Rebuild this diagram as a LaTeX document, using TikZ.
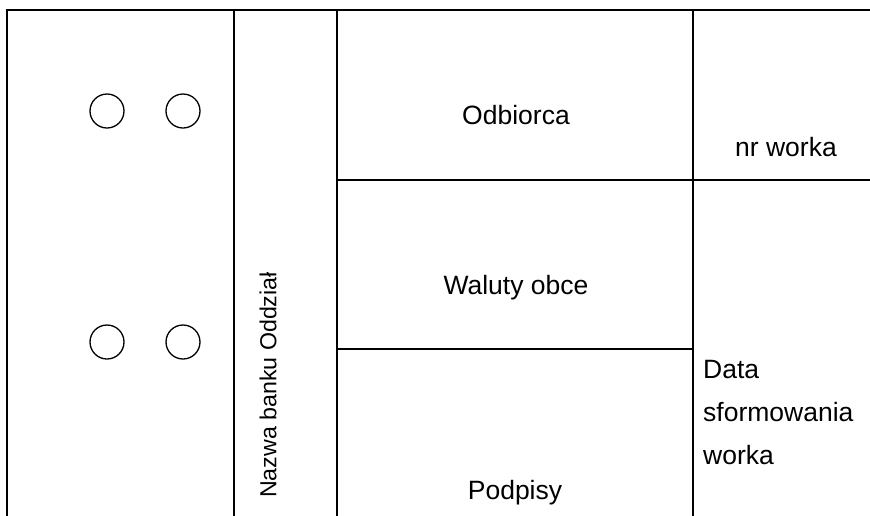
\documentclass[tikz,border=0pt]{standalone}
\usepackage{fontspec}
\setmainfont{Liberation Sans}
\usepackage{tikz}
\tikzstyle{frame} = [line width=2pt, line cap=rect]
\tikzstyle{label} = [font=\fontsize{26.5}{43}\selectfont, inner sep=0pt]
\tikzstyle{hole} = [line width=1.3pt]

\begin{document}
\begin{tikzpicture}[x=1pt, y=-1pt]
                \useasboundingbox (0,0) rectangle (870,515);

                % Outer frame, open at the bottom and on the right
                \draw [frame] (7,515) -- (7,10) -- (870,10);

                % Column borders
                \draw [frame] (234,10) -- (234,515);
                \draw [frame] (337,10) -- (337,515);
                \draw [frame] (693,10) -- (693,515);

                % Row borders
                \draw [frame] (337,180) -- (870,180);
                \draw [frame] (337,349) -- (693,349);

                % Holes
                \foreach \x in {107,183}
                \foreach \y in {111,342}
                \draw [hole] (\x,\y) circle (17);

                % Texts
                \node[label] (odbiorca) at (516,115) {Odbiorca};
                \node[label] (nrworka) at (786,147) {nr worka};
                \node[label] (waluty) at (516,288) {Waluty obce};
                \node[label] (podpisy) at (515,493) {Podpisy};
                \node[label, font=\fontsize{23.2}{28}\selectfont, rotate=90] (bank) at (268,385) {Nazwa banku Oddział};
                \node[label, anchor=west, align=left] (data) at (703,413) {Data\\sformowania\\worka};
            \end{tikzpicture}
\end{document}
